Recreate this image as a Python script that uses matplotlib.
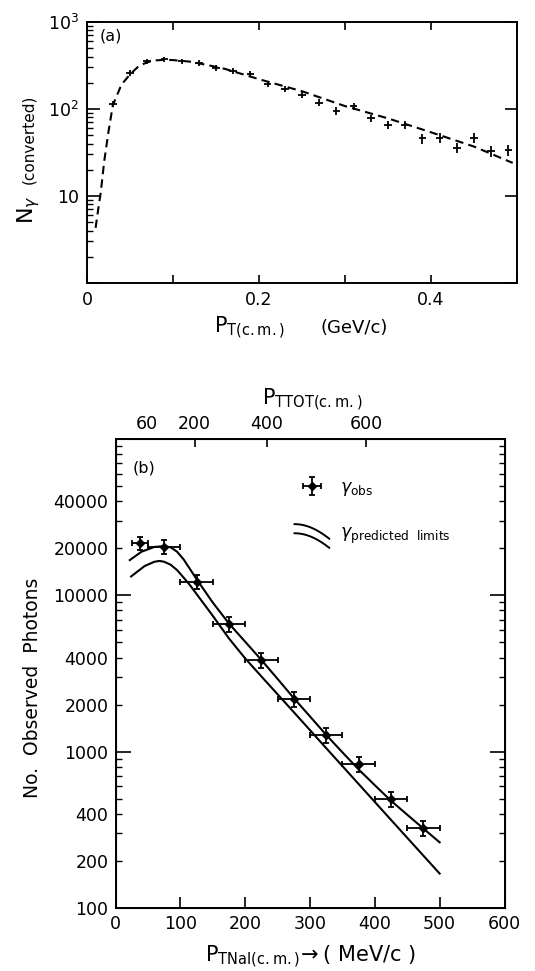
import numpy as np
import matplotlib
matplotlib.use("Agg")
import matplotlib.pyplot as plt
from matplotlib.legend_handler import HandlerBase
from matplotlib.lines import Line2D
from matplotlib.ticker import FuncFormatter, LogLocator, NullFormatter

plt.rcParams['font.family'] = ['DejaVu Sans']
plt.rcParams['mathtext.fontset'] = 'dejavusans'

# ---- panel (a): converted photons vs P_T ----
pt_a = [0.03, 0.05, 0.07, 0.09, 0.11, 0.13, 0.15, 0.17, 0.19, 0.21, 0.23, 0.25,
        0.27, 0.29, 0.31, 0.33, 0.35, 0.37, 0.39, 0.41, 0.43, 0.45, 0.47, 0.49]
n_a = [115, 260, 354, 373, 354, 339, 297, 274, 251, 196, 171, 146,
       118, 96, 107, 78, 66, 66, 46, 47, 36, 47, 33, 34]
n_a_err = [9, 20, 25, 25, 25, 25, 22, 22, 20, 16, 15, 13,
           11, 10, 10, 8, 7, 7, 6, 6, 5, 6, 5, 5]
pt_a_err = 0.0045

# dashed model curve
curve_a_x = [0.010, 0.013, 0.016, 0.020, 0.025, 0.030, 0.040, 0.050, 0.060, 0.070,
             0.080, 0.090, 0.100, 0.120, 0.140, 0.160, 0.200, 0.250, 0.300, 0.350,
             0.400, 0.450, 0.495]
curve_a_y = [4.3, 7, 11, 25, 55, 110, 190, 250, 310, 345,
             362, 368, 365, 350, 320, 290, 220, 160, 108, 78,
             54, 37, 24]

# ---- panel (b): observed photons vs P_TNaI ----
p_b = [37.5, 75, 125, 175, 225, 275, 325, 375, 425, 475]
p_b_err = [12.5, 25, 25, 25, 25, 25, 25, 25, 25, 25]
obs_b = [21500, 20500, 12200, 6560, 3860, 2180, 1270, 828, 500, 324]
obs_b_err = [2000, 2000, 1300, 700, 420, 240, 140, 90, 55, 35]

upper_x = [22, 40, 60, 75, 85, 95, 105, 115, 125, 150, 175, 200, 225, 250, 275, 300,
           325, 350, 375, 400, 425, 450, 475, 500]
upper_y = [16800, 19000, 20400, 20650, 20300, 19000, 17000, 14700, 12700, 9000,
           6600, 5050, 3860, 2920, 2200, 1680, 1280, 990, 770, 610, 485, 395, 322, 263]
lower_x = [24, 45, 60, 68, 75, 85, 95, 105, 115, 125, 150, 175, 200, 225, 275,
           325, 375, 425, 475, 500]
lower_y = [13200, 15400, 16400, 16600, 16400, 15700, 14500, 13000, 11600, 10200,
           7400, 5300, 3950, 3030, 1790, 1053, 621, 366, 216, 166]

# top axis P_TTOT(c.m.) positions on the bottom scale
ttot_pos = [122, 233, 387]
ttot_labels = ['200', '400', '600']
ttot_extra_pos = [48]
ttot_extra_labels = ['60']


class HandlerArcs(HandlerBase):
    # two bent lines for the "predicted limits" legend entry
    def create_artists(self, legend, orig_handle, xdescent, ydescent,
                       width, height, fontsize, trans):
        t = np.linspace(0, 1, 30)
        arts = []
        for base in (0.1, 0.85):
            x = -xdescent + width * t
            y = -ydescent + height * (base + 0.3 * np.cos(np.pi * 0.5 * t) - 0.9 * t ** 2)
            ln = Line2D(x, y, color='black', lw=1.4, transform=trans)
            arts.append(ln)
        return arts


fig = plt.figure(figsize=(5.35, 9.71), dpi=100)

# ---------------- (a) ----------------
ax1 = fig.add_axes([87 / 535, 1 - 283 / 971, 430 / 535, 261 / 971])
ax1.errorbar(pt_a, n_a, yerr=n_a_err, xerr=pt_a_err, fmt='none',
             ecolor='black', elinewidth=1.3, capsize=0)
ax1.plot(curve_a_x, curve_a_y, color='black', lw=1.5, ls=(0, (4, 2.5)))
ax1.set_yscale('log')
ax1.set_xlim(0, 0.5)
ax1.set_ylim(1, 1000)
ax1.set_xticks([0, 0.1, 0.2, 0.3, 0.4, 0.5])
ax1.set_xticklabels(['0', '', '0.2', '', '0.4', ''])
ax1.set_yticks([1, 10, 100, 1000])
ax1.set_yticklabels(['', '10', r'$10^2$', r'$10^3$'])
ax1.yaxis.set_minor_locator(LogLocator(base=10, subs=np.arange(2, 10)))
ax1.yaxis.set_minor_formatter(NullFormatter())
ax1.tick_params(which='major', direction='in', top=True, right=True,
                length=9, width=1.2, labelsize=12.5, pad=6)
ax1.tick_params(axis='x', which='major', length=6)
ax1.tick_params(which='minor', direction='in', left=True, right=False,
                length=4, width=1.0)
for s in ax1.spines.values():
    s.set_linewidth(1.4)
ax1.text(0.03, 0.975, '(a)', transform=ax1.transAxes, fontsize=11.5,
         ha='left', va='top')

fig.text(0.40, 1 - 333 / 971, r'$\mathrm{P_{T(c.m.)}}$', fontsize=15,
         ha='left', va='baseline')
fig.text(0.60, 1 - 333 / 971, '(GeV/c)', fontsize=13, ha='left', va='baseline')
fig.text(29 / 535, 1 - 210 / 971, r'$\mathrm{N}_{\gamma}$', fontsize=16,
         rotation=90, ha='center', va='center')
fig.text(29 / 535, 1 - 139 / 971, '(converted)', fontsize=11,
         rotation=90, ha='center', va='center')

# ---------------- (b) ----------------
ax2 = fig.add_axes([115.5 / 535, 1 - 908 / 971, 389 / 535, 469 / 971])
ax2.plot(upper_x, upper_y, color='black', lw=1.5)
ax2.plot(lower_x, lower_y, color='black', lw=1.5)
eb = ax2.errorbar(p_b, obs_b, yerr=obs_b_err, xerr=p_b_err, fmt='D',
                  ms=4.5, color='black', ecolor='black', elinewidth=1.3,
                  capsize=2.5, capthick=1.3)
ax2.set_yscale('log')
ax2.set_xlim(0, 600)
ax2.set_ylim(100, 100000)
ax2.set_xticks([0, 100, 200, 300, 400, 500, 600])
ax2.set_yticks([100, 1000, 10000, 100000])
ax2.set_yticklabels(['100', '1000', '10000', ''])
ax2.yaxis.set_minor_locator(LogLocator(base=10, subs=np.arange(2, 10)))


def minor_lab(v, pos):
    m = v / 10 ** np.floor(np.log10(v) + 1e-9)
    if abs(m - 2) < 0.01 or abs(m - 4) < 0.01:
        if v < 90000:
            return '%d' % round(v)
    return ''


ax2.yaxis.set_minor_formatter(FuncFormatter(minor_lab))
ax2.tick_params(which='major', direction='in', right=True,
                length=11, width=1.2, labelsize=12.5, pad=5)
ax2.tick_params(axis='x', which='major', length=8, pad=5)
ax2.tick_params(which='minor', direction='in', left=True, right=True,
                length=4, width=1.0, labelsize=12.5, pad=5)
for s in ax2.spines.values():
    s.set_linewidth(1.4)
ax2.text(0.045, 0.955, '(b)', transform=ax2.transAxes, fontsize=11.5,
         ha='left', va='top')

top = ax2.twiny()
top.set_xlim(ax2.get_xlim())
top.set_xticks(ttot_pos)
top.set_xticklabels(ttot_labels)
top.set_xticks(ttot_extra_pos, minor=True)
top.set_xticklabels(ttot_extra_labels, minor=True)
top.tick_params(which='major', direction='in', length=6, width=1.2,
                labelsize=12.5, pad=4)
top.tick_params(which='minor', direction='in', length=0, labelsize=12.5, pad=4)

leg = ax2.legend([eb, 'arcs'],
                 [r'$\gamma_{\mathrm{obs}}$', r'$\gamma_{\mathrm{predicted\ \ limits}}$'],
                 handler_map={str: HandlerArcs()},
                 loc='upper left', bbox_to_anchor=(0.42, 0.95), frameon=False,
                 fontsize=12.5, handlelength=2.0, handletextpad=0.6,
                 labelspacing=1.5)

fig.text(262 / 535, 1 - 405 / 971, r'$\mathrm{P_{TTOT(c.m.)}}$', fontsize=15,
         ha='left', va='baseline')
fig.text(205 / 535, 1 - 962 / 971,
         r'$\mathrm{P_{TNaI(c.m.)}}\!\rightarrow$( MeV/c )', fontsize=15,
         ha='left', va='baseline')
fig.text(33 / 535, 1 - 688 / 971, 'No.  Observed  Photons', fontsize=13.5,
         rotation=90, ha='center', va='center')

fig.savefig('out.png', dpi=100)
